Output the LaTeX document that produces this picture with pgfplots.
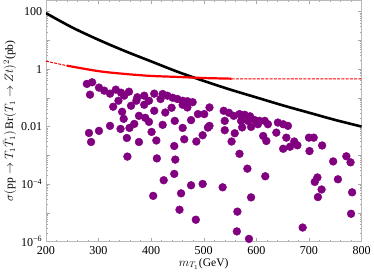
\documentclass[border=0pt]{standalone}
\usepackage{fontspec}
\setmainfont{Liberation Serif}
\usepackage{pgfplots}
\pgfplotsset{compat=1.18}
\definecolor{mmapurple}{rgb}{0.5,0,0.5}
\begin{document}
\begin{tikzpicture}
\begin{axis}[
  scale only axis,
  width=314pt, height=240pt,
  xmin=200, xmax=800,
  ymode=log, ymin=1e-6, ymax=250,
  axis line style={gray!55},
  every tick/.style={gray!70},
  major tick length=4pt, minor tick length=2pt,
  xtick={200,300,...,800},
  minor x tick num=4,
  ytick={1e-6,1e-5,1e-4,1e-3,1e-2,1e-1,1,10,100},
  yticklabels={10\textsuperscript{−6},,10\textsuperscript{−4},,0.01,,1,,100},
  xticklabels={200,300,400,500,600,700,800},
  tick label style={font=\fontsize{12}{14}\selectfont, black},
  xticklabel style={yshift=-1pt},
  xlabel={$m_{T_1}$(GeV)},
  ylabel={$\sigma(\mathrm{pp}\to T_1\bar{T}_1)\,\mathrm{Br}(T_1\to Zt)^2$(pb)},
  label style={font=\fontsize{11.5}{13}\selectfont},
  xlabel style={yshift=3pt},
  ylabel style={yshift=-2pt},
  clip=true,
]
\addplot[only marks, mark=*, mark size=3.9pt, color=mmapurple, mark options={draw=mmapurple, fill=mmapurple}] coordinates {
(278,0.306) (288,0.348) (301,0.227) (311,0.178) (322,0.140) (333,0.193) (343,0.151) (358,0.164)
(349,0.119) (374,0.105) (387,0.119) (406,0.140) (396,0.0794) (338,0.0794) (328,0.0490) (345,0.0327)
(362,0.0531) (372,0.0794) (387,0.0575) (348,0.0186) (377,0.0237) (389,0.0202) (368,0.0124) (396,0.0146)
(359,0.0090) (322,0.0106) (301,0.0071) (282,0.0060) (284,0.129) (406,0.0355)
(422,0.136) (431,0.119) (418,0.0912) (441,0.101) (450,0.0912) (460,0.0794) (469,0.0764) (479,0.0705)
(460,0.0575) (427,0.0309) (439,0.0452) (469,0.0463) (489,0.0272) (501,0.0272) (511,0.0463) (538,0.0355)
(548,0.0302) (557,0.0237) (476,0.0168) (511,0.0106) (540,0.0158) (422,0.0115) (445,0.0158) (460,0.0090)
(568,0.0272) (578,0.0257) (588,0.0228) (571,0.0158) (584,0.0158) (597,0.0168) (606,0.0158) (616,0.0158)
(622,0.0121) (603,0.0121) (641,0.0138) (651,0.0121) (660,0.0106) (638,0.00617) (613,0.00472) (619,0.00316)
(657,0.00412) (672,0.00303) (678,0.00223) (664,0.00199) (651,0.00169) (700,0.00412) (709,0.00412) (701,0.00141)
(725,0.00220) (286,0.00291) (342,0.00830) (354,0.00402) (377,0.00291) (401,0.00652) (410,0.00329) (444,0.00211)
(355,0.000904) (411,0.000782) (446,0.000710) (444,0.000226) (424,0.000136) (404,3.89e-5) (463,0.00362) (486,0.00303)
(498,0.00500) (508,0.00923) (540,0.00748) (559,0.00587) (553,0.00303) (573,0.00938) (590,0.00976)
(568,0.00113) (583,0.000344) (617,0.000187) (476,9.08e-5) (498,0.000101) (536,7.73e-5) (457,4.76e-5) (590,3.45e-5)
(746,0.000614) (771,0.000927) (779,0.000571) (716,0.000170) (711,0.000119) (755,0.000147) (724,6.47e-5) (782,5.16e-5)
(717,3.53e-5) (454,1.28e-5) (564,1.10e-5) (485,5.75e-6) (563,2.26e-6) (586,1.24e-6) (688,3.07e-6) (780,9.27e-6)
};
\addplot[black, line width=2.6pt, smooth] coordinates {
(200,89.1) (250,28.2) (300,10.5) (350,4.27) (400,1.86) (450,0.813) (500,0.389) (550,0.195)
(600,0.1035) (650,0.055) (700,0.0305) (750,0.017) (800,0.0100)
};
\addplot[red, line width=2.2pt, smooth] coordinates {
(240,1.32) (300,0.85) (350,0.68) (400,0.58) (450,0.535) (500,0.49) (553,0.465)
};
\addplot[red, line width=1pt, dash pattern=on 3pt off 1.2pt] coordinates {
(200,1.89) (240,1.32)
};
\addplot[red, line width=1pt, dash pattern=on 3pt off 1.2pt] coordinates {
(553,0.46) (800,0.455)
};
\end{axis}
\end{tikzpicture}
\end{document}
